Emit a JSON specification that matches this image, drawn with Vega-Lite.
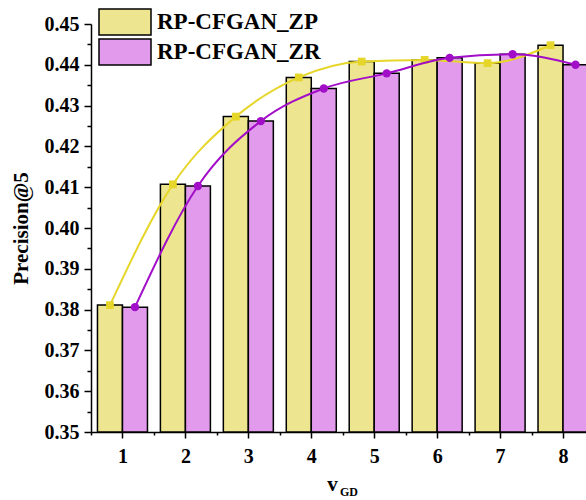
{
  "$schema": "https://vega.github.io/schema/vega-lite/v6.json",
  "autosize": {"type": "none"},
  "width": 495,
  "height": 408,
  "padding": {"left": 91, "top": 24, "right": 0, "bottom": 68},
  "background": "white",
  "config": {
    "font": "Liberation Serif",
    "view": {"stroke": null},
    "axis": {"domainColor": "black", "tickColor": "black", "domainWidth": 1.5, "tickWidth": 1.5, "labelColor": "black", "titleColor": "black", "labelFontWeight": "bold", "titleFontWeight": "bold", "grid": false}
  },
  "title": {"text": "GD", "orient": "bottom", "anchor": "start", "frame": "bounds", "dx": 330, "offset": -7, "baseline": "top", "fontSize": 12, "fontWeight": "bold", "color": "black", "font": "Liberation Serif"},
  "data": {"values": [
    {"v": 1, "series": "RP-CFGAN_ZP", "p": 0.3811},
    {"v": 2, "series": "RP-CFGAN_ZP", "p": 0.4107},
    {"v": 3, "series": "RP-CFGAN_ZP", "p": 0.4273},
    {"v": 4, "series": "RP-CFGAN_ZP", "p": 0.4369},
    {"v": 5, "series": "RP-CFGAN_ZP", "p": 0.4408},
    {"v": 6, "series": "RP-CFGAN_ZP", "p": 0.4412},
    {"v": 7, "series": "RP-CFGAN_ZP", "p": 0.4404},
    {"v": 8, "series": "RP-CFGAN_ZP", "p": 0.4448},
    {"v": 1, "series": "RP-CFGAN_ZR", "p": 0.3806},
    {"v": 2, "series": "RP-CFGAN_ZR", "p": 0.4103},
    {"v": 3, "series": "RP-CFGAN_ZR", "p": 0.4262},
    {"v": 4, "series": "RP-CFGAN_ZR", "p": 0.4342},
    {"v": 5, "series": "RP-CFGAN_ZR", "p": 0.4379},
    {"v": 6, "series": "RP-CFGAN_ZR", "p": 0.4417},
    {"v": 7, "series": "RP-CFGAN_ZR", "p": 0.4426},
    {"v": 8, "series": "RP-CFGAN_ZR", "p": 0.4400}
  ]},
  "encoding": {
    "x": {"field": "v", "type": "quantitative",
      "scale": {"domain": [0.5, 8.365], "nice": false, "zero": false, "padding": 0},
      "axis": {
        "values": [0.5, 1, 1.5, 2, 2.5, 3, 3.5, 4, 4.5, 5, 5.5, 6, 6.5, 7, 7.5, 8],
        "labelExpr": "datum.value % 1 === 0 ? format(datum.value, 'd') : ''",
        "tickSize": {"condition": {"test": "datum.value % 1 !== 0", "value": 3}, "value": 6},
        "labelFontSize": 20, "labelPadding": 8, "labelOverlap": false, "labelFlush": false,
        "title": "v", "titleFontSize": 21, "titleX": 241, "titleY": 58, "titleAlign": "center", "titleBaseline": "alphabetic"
      }
    },
    "y": {"field": "p", "type": "quantitative",
      "scale": {"domain": [0.35, 0.45], "nice": false, "zero": false, "padding": 0},
      "axis": {
        "values": [0.35, 0.355, 0.36, 0.365, 0.37, 0.375, 0.38, 0.385, 0.39, 0.395, 0.4, 0.405, 0.41, 0.415, 0.42, 0.425, 0.43, 0.435, 0.44, 0.445, 0.45],
        "labelExpr": "round(datum.value * 1000) % 10 !== 0 ? '' : format(datum.value, '.2f')",
        "tickSize": {"condition": {"test": "round(datum.value * 1000) % 10 !== 0", "value": 4}, "value": 7},
        "labelFontSize": 20, "labelPadding": 5, "labelOverlap": false, "labelFlush": false,
        "title": "Precision@5", "titleFontSize": 21, "titlePadding": 13
      }
    }
  },
  "layer": [
    {
      "transform": [{"filter": "datum.series === 'RP-CFGAN_ZP'"}],
      "mark": {"type": "bar", "width": 25, "xOffset": -12.5, "stroke": "black", "strokeWidth": 1.5, "clip": true},
      "encoding": {
        "y2": {"datum": 0.35},
        "fill": {"field": "series", "type": "nominal",
          "scale": {"domain": ["RP-CFGAN_ZP", "RP-CFGAN_ZR"], "range": ["#EEE590", "#E19AEC"]},
          "legend": {"title": null, "orient": "none", "legendX": 7, "legendY": -16,
            "symbolType": "M-2,-1H2V1H-2Z", "symbolSize": 676, "symbolStrokeColor": "black", "symbolStrokeWidth": 1.5, "symbolOpacity": 1,
            "symbolOffset": 13, "labelOffset": 18, "rowPadding": -2, "labelLimit": 400,
            "labelFontSize": 23, "labelFontWeight": "bold", "labelColor": "black", "labelFont": "Liberation Serif"}
        }
      }
    },
    {
      "transform": [{"filter": "datum.series === 'RP-CFGAN_ZR'"}],
      "mark": {"type": "bar", "width": 25, "xOffset": 12.5, "stroke": "black", "strokeWidth": 1.5, "clip": true},
      "encoding": {
        "y2": {"datum": 0.35},
        "fill": {"field": "series", "type": "nominal"}
      }
    },
    {
      "transform": [{"filter": "datum.series === 'RP-CFGAN_ZP'"}],
      "mark": {"type": "line", "interpolate": "monotone", "xOffset": -12.5, "color": "#E6D62A", "strokeWidth": 2, "clip": true},
      "encoding": {}
    },
    {
      "transform": [{"filter": "datum.series === 'RP-CFGAN_ZP'"}],
      "mark": {"type": "point", "shape": "square", "filled": true, "size": 60, "xOffset": -12.5, "color": "#E6D62A", "opacity": 1, "clip": true},
      "encoding": {}
    },
    {
      "transform": [{"filter": "datum.series === 'RP-CFGAN_ZR'"}],
      "mark": {"type": "line", "interpolate": "monotone", "xOffset": 12.5, "color": "#A20DC8", "strokeWidth": 2, "clip": true},
      "encoding": {}
    },
    {
      "transform": [{"filter": "datum.series === 'RP-CFGAN_ZR'"}],
      "mark": {"type": "point", "shape": "circle", "filled": true, "size": 70, "xOffset": 12.5, "color": "#A20DC8", "opacity": 1, "clip": true},
      "encoding": {}
    }
  ]
}
